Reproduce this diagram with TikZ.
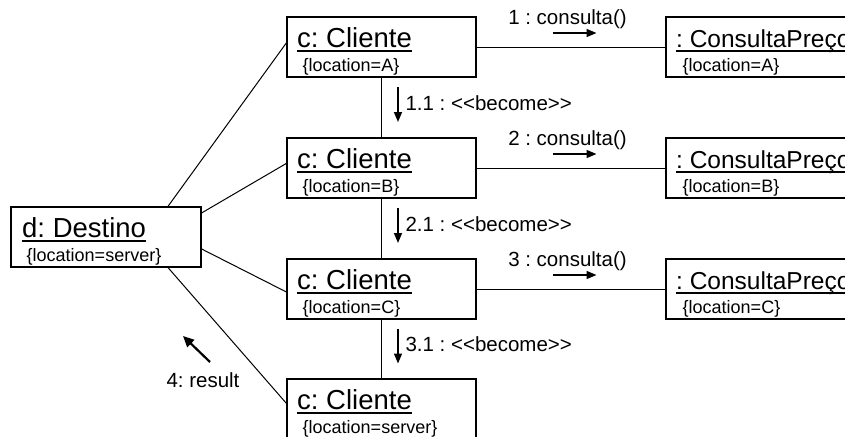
\documentclass[tikz,border=0pt]{standalone}
\usepackage{fontspec}
\setmainfont{Liberation Sans}
\usetikzlibrary{arrows.meta}
\frenchspacing
\newcommand{\objname}[1]{\setbox0\hbox{#1}\rlap{\rule[-4.6bp]{\wd0}{1.8bp}}\box0}

\begin{document}
\begin{tikzpicture}[
    box/.style={draw,rectangle,line width=1.2bp,minimum width=189bp,minimum height=60bp,inner sep=0pt,outer sep=0pt},
    objtitle/.style={anchor=base west,inner sep=0pt,xshift=10bp,yshift=-30bp,font=\fontsize{27.5bp}{30bp}\selectfont},
    objloc/.style={anchor=base west,inner sep=0pt,xshift=15.5bp,yshift=-54bp,font=\fontsize{18bp}{20bp}\selectfont},
    link/.style={line width=1bp},
    msglbl/.style={anchor=base,inner sep=0pt,xshift=-3.5bp,yshift=23bp,font=\fontsize{20.5bp}{22bp}\selectfont},
    becomelbl/.style={anchor=base west,inner sep=0pt,xshift=23.5bp,yshift=-2.5bp,font=\fontsize{20.5bp}{22bp}\selectfont},
    msg/.style={-{Triangle[length=10bp,width=8bp]},line width=1.6bp},
    back/.style={-{Triangle[length=11bp,width=10bp]},line width=2.2bp}
  ]
  \useasboundingbox (0bp,0bp) rectangle (845bp,-437bp);
  \clip (0bp,0bp) rectangle (845bp,-437bp);
  % objects
  \node (d) at (106bp,-237bp) [box,minimum width=190bp] {};
  \node (cA) at (381.5bp,-47bp) [box] {};
  \node (cB) at (381.5bp,-168bp) [box] {};
  \node (cC) at (381.5bp,-289bp) [box] {};
  \node (cS) at (381.5bp,-409bp) [box] {};
  \node (pA) at (760.5bp,-47bp) [box] {};
  \node (pB) at (760.5bp,-168bp) [box] {};
  \node (pC) at (760.5bp,-289bp) [box] {};
  % object texts
  \node (d-name) at (d.north west) [objtitle,xshift=1bp] {\objname{d: Destino}};
  \node (d-loc) at (d.north west) [objloc] {\{location=server\}};
  \node (cA-name) at (cA.north west) [objtitle] {\objname{c: Cliente}};
  \node (cA-loc) at (cA.north west) [objloc] {\{location=A\}};
  \node (cB-name) at (cB.north west) [objtitle] {\objname{c: Cliente}};
  \node (cB-loc) at (cB.north west) [objloc] {\{location=B\}};
  \node (cC-name) at (cC.north west) [objtitle] {\objname{c: Cliente}};
  \node (cC-loc) at (cC.north west) [objloc] {\{location=C\}};
  \node (cS-name) at (cS.north west) [objtitle] {\objname{c: Cliente}};
  \node (cS-loc) at (cS.north west) [objloc] {\{location=server\}};
  \node (pA-name) at (pA.north west) [objtitle,font=\fontsize{24.5bp}{28bp}\selectfont] {\objname{: ConsultaPreço}};
  \node (pA-loc) at (pA.north west) [objloc,xshift=1bp] {\{location=A\}};
  \node (pB-name) at (pB.north west) [objtitle,font=\fontsize{24.5bp}{28bp}\selectfont] {\objname{: ConsultaPreço}};
  \node (pB-loc) at (pB.north west) [objloc,xshift=1bp] {\{location=B\}};
  \node (pC-name) at (pC.north west) [objtitle,font=\fontsize{24.5bp}{28bp}\selectfont] {\objname{: ConsultaPreço}};
  \node (pC-loc) at (pC.north west) [objloc,xshift=1bp] {\{location=C\}};
  % links from d
  \draw [link] (d.26) -- (cA.177.6);
  \draw [link] (d.14.2) -- (cB.177);
  \draw [link] (d.-7.8) -- (cC.182.4);
  \draw [link] (d.-26.2) -- (cS.177.6);
  % consulta links
  \draw [link] (cA) -- node[msglbl] (m1) {1 : consulta()} (pA);
  \draw [msg] ([xshift=-15bp,yshift=-9bp]m1.base) -- ([xshift=29bp,yshift=-9bp]m1.base);
  \draw [link] (cB) -- node[msglbl] (m2) {2 : consulta()} (pB);
  \draw [msg] ([xshift=-15bp,yshift=-9bp]m2.base) -- ([xshift=29bp,yshift=-9bp]m2.base);
  \draw [link] (cC) -- node[msglbl] (m3) {3 : consulta()} (pC);
  \draw [msg] ([xshift=-15bp,yshift=-9bp]m3.base) -- ([xshift=29bp,yshift=-9bp]m3.base);
  % become links
  \draw [link] (cA) -- node[becomelbl] (b1) {1.1 : <{}<become>{}>} (cB);
  \draw [msg] ([xshift=-7bp,yshift=23bp]b1.base west) -- ([xshift=-7bp,yshift=-12bp]b1.base west);
  \draw [link] (cB) -- node[becomelbl] (b2) {2.1 : <{}<become>{}>} (cC);
  \draw [msg] ([xshift=-7bp,yshift=23bp]b2.base west) -- ([xshift=-7bp,yshift=-12bp]b2.base west);
  \draw [link] (cC) -- node[becomelbl] (b3) {3.1 : <{}<become>{}>} (cS);
  \draw [msg] ([xshift=-7bp,yshift=23bp]b3.base west) -- ([xshift=-7bp,yshift=-12bp]b3.base west);
  % result
  \node (r4) at (203bp,-387bp) [anchor=base,inner sep=0pt,font=\fontsize{20.5bp}{22bp}\selectfont] {4: result};
  \draw [back] ([xshift=7bp,yshift=25bp]r4.base) -- ([xshift=-20bp,yshift=51bp]r4.base);
\end{tikzpicture}
\end{document}
